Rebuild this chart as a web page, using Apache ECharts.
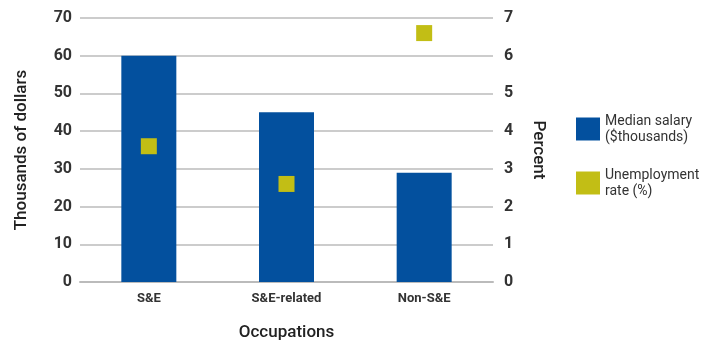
<!DOCTYPE html>
<html>
<head>
<meta charset="utf-8">
<script src="https://cdn.jsdelivr.net/npm/echarts@6/dist/echarts.min.js"></script>
<style>
  html, body { margin: 0; padding: 0; background: #fff; }
  #chart { width: 710px; height: 344px; }
</style>
</head>
<body>
<div id="chart"></div>
<script>
// Occupation groups on the category axis
const categories = ['S&E', 'S&E-related', 'Non-S&E'];
// Median salary, thousands of dollars (left axis)
const medianSalary = [60, 45, 29];
// Unemployment rate, percent (right axis)
const unemploymentRate = [3.6, 2.6, 6.6];

const FONT = '"Liberation Sans Narrow", "Roboto", "Liberation Sans", Arial, sans-serif';
const BLUE = '#03509e';
const OLIVE = '#c2be15';

const chart = echarts.init(document.getElementById('chart'));
chart.setOption({
  animation: false,
  textStyle: { fontFamily: FONT },
  grid: { left: 80, right: 217, top: 18, bottom: 62, outerBoundsMode: 'none', containLabel: false },
  legend: {
    orient: 'vertical',
    left: 576,
    top: 113,
    padding: 0,
    itemWidth: 24,
    itemHeight: 23,
    itemGap: 22,
    icon: 'rect',
    textStyle: { fontFamily: FONT, fontSize: 14, color: '#333', lineHeight: 16 },
    data: ['Median salary\n($thousands)', 'Unemployment\nrate (%)']
  },
  xAxis: {
    type: 'category',
    data: categories,
    name: 'Occupations',
    nameLocation: 'middle',
    nameGap: 42,
    nameTextStyle: { fontFamily: FONT, fontSize: 17, fontWeight: 500, color: '#222' },
    axisLine: { show: true, lineStyle: { color: '#bbb', width: 2 } },
    axisTick: { show: false },
    axisLabel: { fontFamily: FONT, fontSize: 13, fontWeight: 'bold', color: '#333', margin: 10 }
  },
  yAxis: [
    {
      type: 'value',
      min: 0, max: 70, interval: 10,
      name: 'Thousands of dollars',
      nameLocation: 'middle',
      nameGap: 50,
      nameTextStyle: { fontFamily: FONT, fontSize: 17, fontWeight: 500, color: '#222' },
      axisLine: { show: false },
      axisTick: { show: false },
      axisLabel: { fontFamily: FONT, fontSize: 16, fontWeight: 'bold', color: '#333', margin: 8 },
      splitLine: { lineStyle: { color: '#bbb', width: 1.5 } }
    },
    {
      type: 'value',
      min: 0, max: 7, interval: 1,
      name: 'Percent',
      nameLocation: 'middle',
      nameGap: 37,
      nameRotate: -90,
      nameTextStyle: { fontFamily: FONT, fontSize: 17, fontWeight: 500, color: '#222' },
      axisLine: { show: false },
      axisTick: { show: false },
      axisLabel: { fontFamily: FONT, fontSize: 16, fontWeight: 'bold', color: '#333', margin: 11 },
      splitLine: { show: false }
    }
  ],
  series: [
    {
      name: 'Median salary\n($thousands)',
      type: 'bar',
      data: medianSalary,
      barWidth: 55,
      itemStyle: { color: BLUE },
      z: 2
    },
    {
      name: 'Unemployment\nrate (%)',
      type: 'scatter',
      yAxisIndex: 1,
      data: unemploymentRate,
      symbol: 'rect',
      symbolSize: 16,
      itemStyle: { color: OLIVE, opacity: 1 },
      z: 3
    }
  ]
});
</script>
</body>
</html>
